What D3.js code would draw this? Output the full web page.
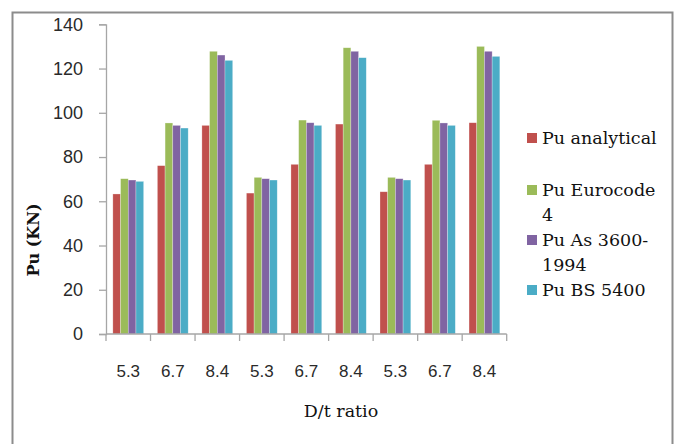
<!DOCTYPE html>
<html>
<head>
<meta charset="utf-8">
<script src="https://cdn.jsdelivr.net/npm/d3@7/dist/d3.min.js"></script>
<style>
  html, body { margin: 0; padding: 0; background: #fff; }
  svg { display: block; }
</style>
</head>
<body>
<svg id="chart" width="676" height="444"></svg>
<script>
// D/t ratio categories (three specimen sets)
const categories = ["5.3", "6.7", "8.4", "5.3", "6.7", "8.4", "5.3", "6.7", "8.4"];
const seriesNames = ["Pu analytical", "Pu Eurocode 4", "Pu As 3600-1994", "Pu BS 5400"];
const legendLines = [["Pu analytical"], ["Pu Eurocode", "4"], ["Pu As 3600-", "1994"], ["Pu BS 5400"]];
const colors = ["#C0504D", "#9BBB59", "#8064A2", "#4BACC6"];

const puAnalytical = [63.3, 76.1, 94.3, 63.7, 76.7, 94.9, 64.3, 76.7, 95.5];
const puEurocode4  = [70.2, 95.4, 127.8, 70.8, 96.7, 129.4, 70.8, 96.6, 130.0];
const puAs3600     = [69.6, 94.3, 126.1, 70.2, 95.5, 127.8, 70.2, 95.4, 127.8];
const puBS5400     = [69.0, 93.1, 123.7, 69.6, 94.3, 124.9, 69.6, 94.3, 125.5];

const yTicks = [0, 20, 40, 60, 80, 100, 120, 140];

const seriesValues = [puAnalytical, puEurocode4, puAs3600, puBS5400];

const svg = d3.select("#chart");
const plot = { left: 106, right: 506.7, top: 24.3, bottom: 334 };

// outer chart-area frame (bottom edge falls outside the canvas)
svg.append("path")
  .attr("d", "M12.5,450 L12.5,12.5 L672.5,12.5 L672.5,450")
  .attr("fill", "none")
  .attr("stroke", "#8c8c8c")
  .attr("stroke-width", 2);

const x = d3.scaleBand()
  .domain(d3.range(categories.length))
  .range([plot.left, plot.right])
  .paddingInner(0)
  .paddingOuter(0);

const y = d3.scaleLinear().domain([0, 140]).range([plot.bottom, plot.top]);

const barW = 7.7;
const groupOffset = (x.bandwidth() - barW * 4) / 2;

const textFont = "'DejaVu Serif', 'Liberation Serif', serif";
const numFont = "'Liberation Sans', 'DejaVu Sans', sans-serif";

// bars
seriesValues.forEach((vals, s) => {
  svg.append("g").selectAll("rect")
    .data(vals)
    .join("rect")
    .attr("x", (d, i) => x(i) + groupOffset + s * barW)
    .attr("y", d => y(d))
    .attr("width", barW)
    .attr("height", d => y(0) - y(d))
    .attr("fill", colors[s])
    .attr("stroke", "rgba(255,255,255,0.45)")
    .attr("stroke-width", 0.6);
});

// y axis
const yAxis = d3.axisLeft(y).tickValues(yTicks).tickSize(7).tickPadding(16);
const gy = svg.append("g").attr("transform", `translate(${plot.left},0)`).call(yAxis);
gy.select(".domain").attr("stroke", "#a6a6a6").attr("stroke-width", 1.3);
gy.selectAll(".tick line").attr("stroke", "#a6a6a6").attr("stroke-width", 1.3);
gy.selectAll(".tick text")
  .attr("font-family", numFont)
  .attr("font-size", 18)
  .attr("fill", "#2a2a2a");

// x axis with boundary ticks between categories
svg.append("line")
  .attr("x1", plot.left).attr("x2", plot.right)
  .attr("y1", plot.bottom).attr("y2", plot.bottom)
  .attr("stroke", "#a6a6a6").attr("stroke-width", 1.3);
const bounds = d3.range(categories.length + 1).map(i => i < categories.length ? x(i) : plot.right);
svg.append("g").selectAll("line")
  .data(bounds)
  .join("line")
  .attr("x1", d => d).attr("x2", d => d)
  .attr("y1", plot.bottom).attr("y2", plot.bottom + 7)
  .attr("stroke", "#a6a6a6").attr("stroke-width", 1.3);
svg.append("g").selectAll("text")
  .data(categories)
  .join("text")
  .attr("x", (d, i) => x(i) + x.bandwidth() / 2)
  .attr("y", 377)
  .attr("text-anchor", "middle")
  .attr("font-family", numFont)
  .attr("font-size", 17)
  .attr("fill", "#2a2a2a")
  .text(d => d);

// axis titles
svg.append("text")
  .attr("x", 341).attr("y", 417)
  .attr("text-anchor", "middle")
  .attr("font-family", textFont)
  .attr("font-size", 17.5)
  .attr("fill", "#111")
  .text("D/t ratio");

svg.append("text")
  .attr("transform", "translate(39,240) rotate(-90)")
  .attr("text-anchor", "middle")
  .attr("font-family", textFont)
  .attr("font-weight", "bold")
  .attr("font-size", 16)
  .attr("fill", "#111")
  .text("Pu (KN)");

// legend
const legendRows = [138, 190, 240, 290];
const legend = svg.append("g");
seriesNames.forEach((name, s) => {
  const g = legend.append("g");
  g.append("rect")
    .attr("x", 527).attr("y", legendRows[s] - 5)
    .attr("width", 10).attr("height", 10)
    .attr("fill", colors[s]);
  legendLines[s].forEach((line, k) => {
    g.append("text")
      .attr("x", 542)
      .attr("y", legendRows[s] + 6 + k * 25)
      .attr("font-family", textFont)
      .attr("font-size", 17.5)
      .attr("fill", "#111")
      .text(line);
  });
});
</script>
</body>
</html>
